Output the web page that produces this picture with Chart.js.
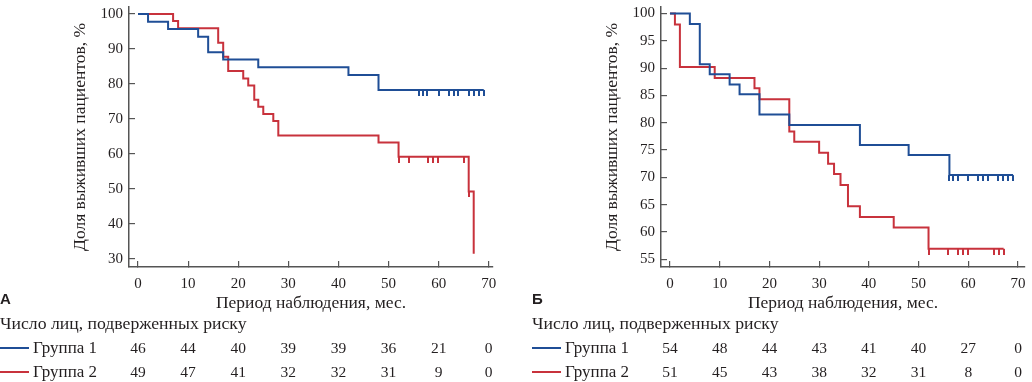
<!DOCTYPE html>
<html><head><meta charset="utf-8">
<script src="https://cdn.jsdelivr.net/npm/chart.js@4"></script>
<style>
body{margin:0;width:1032px;height:382px;background:#fff;position:relative;overflow:hidden;font-family:"Liberation Serif",serif;color:#231f20}
canvas{position:absolute;top:0}
.t{position:absolute;white-space:nowrap;font-size:17px;line-height:18px}
.h{font-size:17.7px}
.n{transform:translateX(-50%);font-size:15.5px}
.p{font-family:"Liberation Sans",sans-serif;font-weight:bold;font-size:15px}
.ln{position:absolute;height:2px;width:29px}
</style></head><body>
<canvas id="cA" width="500" height="382" style="left:0"></canvas>
<canvas id="cB" width="500" height="382" style="left:532px"></canvas>
<script>
// tick labels
const xTicks=[0,10,20,30,40,50,60,70];
const yTicksA=[30,40,50,60,70,80,90,100];
const yTicksB=[55,60,65,70,75,80,85,90,95,100];

// Panel A, group 1
const timesA1=[0,2,6,12,14,17,24,42,48,69];
const survA1=[100,97.8,95.7,93.5,89.1,87.0,84.8,82.6,78.3,78.3];
const censA1=[56,56.8,57.6,60,62,63,63.8,66,67,68,69];
// Panel A, group 2
const timesA2=[0,7,8,16,17,18,21,22,23.2,24,25,27,28,48,52,66,67];
const survA2=[100,98.0,95.9,91.8,87.8,83.7,81.6,79.6,75.5,73.5,71.4,69.4,65.3,63.3,59.2,49.3,31.5];
const censA2=[52,54,57.8,58.8,59.8,65,66];
// Panel B, group 1
const timesB1=[0,4,6,8,12,14,18,24,38.2,48,56.2,69];
const survB1=[100,98.1,90.7,88.9,87.0,85.2,81.5,79.6,75.9,74.1,70.4,70.4];
const censB1=[56.2,57,58,60,62,63,64,66,67,68,69];
// Panel B, group 2
const timesB2=[0,1,2,9,17,18,24,25,30,31.8,33,34.3,35.8,38.2,45,52,67.1];
const survB2=[100,98.0,90.2,88.2,86.3,84.3,78.4,76.5,74.5,72.5,70.6,68.6,64.7,62.7,60.8,56.9,56.9];
const censB2=[52,56,58,59,60,65.1,66.1,67.1];

// numbers at risk
const riskA1=[46,44,40,39,39,36,21,0];
const riskA2=[49,47,41,32,32,31,9,0];
const riskB1=[54,48,44,43,41,40,27,0];
const riskB2=[51,45,43,38,32,31,8,0];

const groupNames=['Группа 1','Группа 2'];
const blue='#1f4e96', red='#c8323c', axisColor='#555', txt='#231f20';

function survAt(times,surv,t){let v=surv[0];for(let i=0;i<times.length;i++){if(times[i]<=t)v=surv[i];}return v;}
function tickMark(color){const c=document.createElement('canvas');c.width=2;c.height=12;const g=c.getContext('2d');g.fillStyle=color;g.fillRect(0,6,2,6);return c;}

function lineDs(times,surv,color){return {type:'line',data:times.map((t,i)=>({x:t,y:surv[i]})),stepped:'before',borderColor:color,borderWidth:2,pointRadius:0,fill:false,order:2};}
function censDs(times,surv,cens,color){return {type:'scatter',data:cens.map(t=>({x:t,y:survAt(times,surv,t)})),pointStyle:tickMark(color),pointRadius:6,order:1};}

function make(id,offset,groups,yTicks,yMin,yMax,xMax,padRight,label,risk){
  const datasets=[];
  groups.forEach(g=>datasets.push(lineDs(g.t,g.s,g.c)));
  groups.forEach(g=>datasets.push(censDs(g.t,g.s,g.k,g.c)));
  const font=(s)=>({family:'Liberation Serif',size:s});
  const chart=new Chart(document.getElementById(id),{
    data:{datasets},
    options:{responsive:false,animation:false,devicePixelRatio:1,
      layout:{padding:{top:3,right:padRight,left:0,bottom:0}},
      plugins:{legend:{display:false},tooltip:{enabled:false}},
      scales:{
        x:{type:'linear',min:-1.8,max:xMax,
          afterBuildTicks:s=>{s.ticks=xTicks.map(v=>({value:v}));},
          afterFit:s=>{s.height=115;s.paddingLeft=0;s.paddingRight=0;},
          grid:{drawOnChartArea:false,tickLength:-6,color:axisColor,lineWidth:1.2},
          border:{color:axisColor,width:1.5},
          ticks:{padding:14,font:font(15),color:txt,maxRotation:0,autoSkip:false},
          title:{display:true,text:'Период наблюдения, мес.',font:font(17.5),color:txt,padding:{top:0,bottom:68}}},
        y:{type:'linear',min:yMin,max:yMax,
          afterBuildTicks:s=>{s.ticks=yTicks.map(v=>({value:v}));},
          afterFit:s=>{s.width=129;s.paddingTop=0;s.paddingBottom=0;},
          grid:{drawOnChartArea:false,tickLength:-6,color:axisColor,lineWidth:1.2},
          border:{color:axisColor,width:1.5},
          ticks:{padding:12,font:font(15),color:txt,autoSkip:false},
          title:{display:true,text:'Доля выживших пациентов, %',font:font(17.5),color:txt,padding:{top:70,bottom:0}}}
      }}
  });
  const xs=chart.scales.x;
  const add=(cls,text,left,top)=>{const d=document.createElement('div');d.className='t '+cls;d.textContent=text;d.style.left=left+'px';d.style.top=top+'px';document.body.appendChild(d);return d;};
  add('p',label,offset,290);
  add('h','Число лиц, подверженных риску',offset,314);
  const rowsY=[339,363];
  const colors=[blue,red];
  risk.forEach((r,gi)=>{
    const l=document.createElement('div');l.className='ln';l.style.left=offset+'px';l.style.top=(rowsY[gi]+8)+'px';l.style.background=colors[gi];document.body.appendChild(l);
    add('',groupNames[gi],offset+33,rowsY[gi]);
    r.forEach((v,i)=>add('n',String(v),offset+xs.getPixelForValue(xTicks[i]),rowsY[gi]));
  });
  return chart;
}

make('cA',0,[{t:timesA1,s:survA1,k:censA1,c:blue},{t:timesA2,s:survA2,k:censA2,c:red}],yTicksA,27.7,102,70.85,4,'А',[riskA1,riskA2]);
make('cB',532,[{t:timesB1,s:survB1,k:censB1,c:blue},{t:timesB2,s:survB2,k:censB2,c:red}],yTicksB,53.56,101.2,71.4,0,'Б',[riskB1,riskB2]);
</script>
</body></html>
